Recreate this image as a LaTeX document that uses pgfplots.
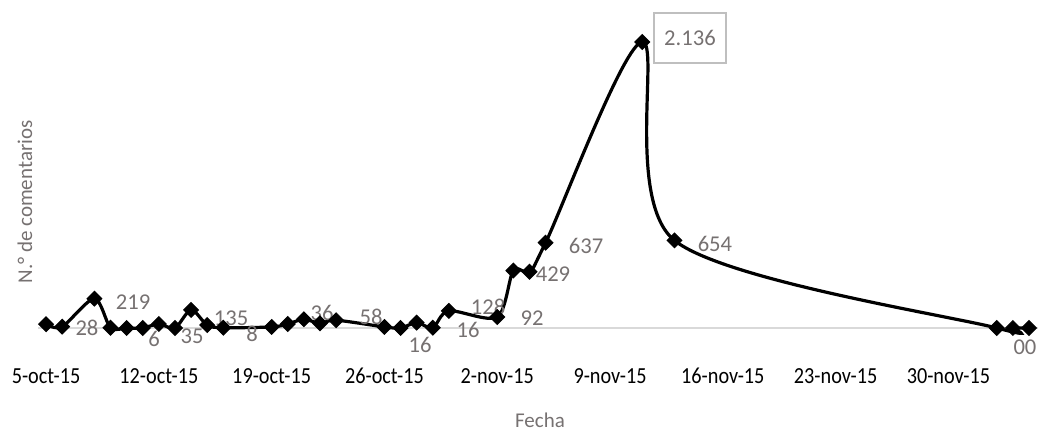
\documentclass[border=0pt]{standalone}
\usepackage{pgfplots}
\pgfplotsset{compat=1.18}
\usepackage{fontspec}
\setmainfont{Carlito}
\newfontfamily\tickfont{Carlito}[FakeStretch=0.88]
\definecolor{lblgray}{RGB}{118,113,113}
\definecolor{axgray}{RGB}{217,217,217}
\definecolor{boxgray}{RGB}{191,191,191}
\tikzset{lbl/.style={lblgray, font=\fontsize{11.3}{13}\selectfont}}
\begin{document}
\begin{tikzpicture}
\useasboundingbox (-19pt,-51.5pt) rectangle (500pt,164pt);
\begin{axis}[
  at={(0,0)}, anchor=south west,
  scale only axis, width=500pt, height=164pt,
  xmin=-0.5, xmax=61.56, ymin=0, ymax=2450,
  axis x line*=bottom, axis y line=none,
  x axis line style={axgray, line width=0.75pt},
  ytick=\empty,
  xtick={0,7,...,56},
  xticklabels={5-oct-15,12-oct-15,19-oct-15,26-oct-15,2-nov-15,9-nov-15,16-nov-15,23-nov-15,30-nov-15},
  major tick length=0pt,
  xticklabel style={font=\tickfont\fontsize{11.5}{13}\selectfont, anchor=north, inner sep=2pt, yshift=-18pt},
  clip=false,
]
% x = days since 5-oct-15
\addplot[black, line width=1.6pt, smooth, tension=0.5,
  mark=square*, mark size=2.6pt, mark options={rotate=45, solid, fill=black, line width=0.5pt}]
  coordinates {
  (0,28) (1,10) (3,219) (4,2) (5,0) (6,0) (7,30) (8,0) (9,135) (10,22) (11,2)
  (14,8) (15,30) (16,65) (17,35) (18,58)
  (21,8) (22,0) (23,40) (24,2) (25,128)
  (28,82) (29,429) (30,420) (31,637)
  (37,2136) (39,654)
  (59,0) (60,0) (61,0)
  };
\node[lbl] at (axis cs:2.54,0) {28};
\node[lbl] at (axis cs:5.40,194) {219};
\node[lbl] at (axis cs:6.70,-85) {6};
\node[lbl] at (axis cs:9.06,-60) {35};
\node[lbl] at (axis cs:11.48,75) {135};
\node[lbl] at (axis cs:12.78,-45) {8};
\node[lbl] at (axis cs:17.13,112) {36};
\node[lbl] at (axis cs:20.17,82) {58};
\node[lbl] at (axis cs:23.21,-127) {16};
\node[lbl] at (axis cs:26.19,-15) {16};
\node[lbl] at (axis cs:27.43,157) {128};
\node[lbl] at (axis cs:30.16,75) {92};
\node[lbl] at (axis cs:31.46,403) {429};
\node[lbl] at (axis cs:33.51,612) {637};
\node[lbl] at (axis cs:41.51,627) {654};
\node[lbl, draw=boxgray, line width=0.75pt, minimum width=36pt, minimum height=25pt] at (axis cs:39.96,2166) {2.136};
\node[lbl] at (axis cs:60.75,-142) {00};
\end{axis}
\node[rotate=90, lblgray, font=\fontsize{10.5}{12}\selectfont] at (-6.5pt,63pt) {N.° de comentarios};
\node[lblgray, font=\fontsize{10.5}{12}\selectfont] at (251pt,-46pt) {Fecha};
\end{tikzpicture}
\end{document}
